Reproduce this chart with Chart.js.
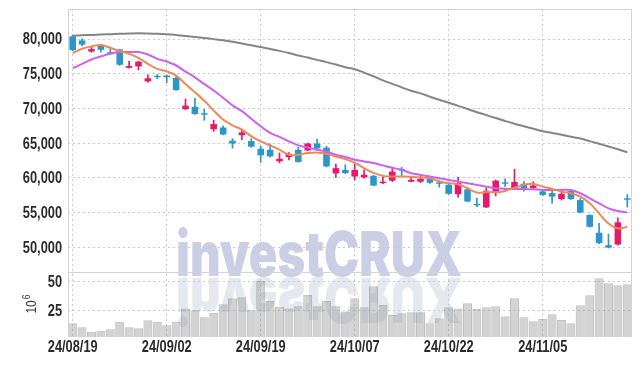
<!DOCTYPE html>
<html>
<head>
<meta charset="utf-8">
<script src="https://cdn.jsdelivr.net/npm/chart.js@4.4.1/dist/chart.umd.min.js"></script>
<style>
    html, body { margin: 0; padding: 0; background: #fff; }
    #wrap { width: 642px; height: 366px; }
</style>
</head>
<body>
<div id="wrap"><canvas id="chart"></canvas></div>
<script>
// --- Dane (dni sesyjne 2024) ---
const dates = [
    '24/08/19', '24/08/20', '24/08/21', '24/08/22', '24/08/23', '24/08/26', '24/08/27', '24/08/28', '24/08/29', '24/08/30',
    '24/09/02', '24/09/03', '24/09/04', '24/09/05', '24/09/06', '24/09/09', '24/09/10', '24/09/11', '24/09/12', '24/09/13',
    '24/09/19', '24/09/20', '24/09/23', '24/09/24', '24/09/25', '24/09/26', '24/09/27', '24/09/30', '24/10/02', '24/10/04',
    '24/10/07', '24/10/08', '24/10/10', '24/10/11', '24/10/14', '24/10/15', '24/10/16', '24/10/17', '24/10/18', '24/10/21',
    '24/10/22', '24/10/23', '24/10/24', '24/10/25', '24/10/28', '24/10/29', '24/10/30', '24/10/31', '24/11/01', '24/11/04',
    '24/11/05', '24/11/06', '24/11/07', '24/11/08', '24/11/11', '24/11/12', '24/11/13', '24/11/14', '24/11/15', '24/11/18'
];
const opens = [
    80400, 79800, 78200, 79000, 78100, 78500, 75850, 76050, 73900, 74700,
    74750, 74400, 69900, 70250, 69300, 67000, 67250, 65350, 66150, 65300,
    64200, 64050, 62400, 63000, 64050, 63950, 64950, 64350, 60650, 61150,
    60200, 60050, 60300, 59250, 59600, 61250, 59450, 59450, 60050, 59350,
    59000, 57650, 58350, 56250, 55750, 58000, 59350, 58500, 59150, 58550,
    58050, 57800, 56950, 58100, 56800, 54650, 52100, 50300, 50400, 57050
];
const highs = [
    80500, 80050, 78900, 79100, 78550, 78550, 76800, 76800, 74850, 74900,
    74800, 74600, 71350, 71450, 69900, 68300, 67500, 65650, 66950, 65650,
    64550, 64900, 63600, 63650, 64400, 65000, 65600, 64550, 62000, 61900,
    62000, 61150, 60350, 60200, 61300, 61500, 60200, 60300, 60200, 59600,
    59300, 60100, 58650, 57100, 58600, 59700, 59850, 61250, 59450, 59450,
    58150, 58150, 58150, 58300, 57000, 54700, 53450, 51900, 54250, 57600
];
const lows = [
    78300, 79000, 78100, 78100, 77850, 76200, 75800, 75550, 73800, 74300,
    73700, 72600, 69850, 69150, 68300, 66700, 66200, 64300, 65500, 64400,
    62250, 63000, 62150, 62600, 62250, 63900, 64200, 61600, 60050, 60600,
    59700, 59950, 58850, 59150, 59450, 60300, 59400, 59300, 59200, 58650,
    57650, 57200, 56550, 55850, 55700, 57400, 58750, 58400, 58100, 58400,
    57450, 56350, 56800, 56900, 54950, 52900, 50500, 49900, 50300, 55800
];
const closes = [
    78400, 79200, 78550, 78450, 77900, 76300, 76100, 76750, 74350, 74500,
    74500, 72650, 70400, 69200, 69100, 67750, 66250, 64950, 66550, 64500,
    63250, 63100, 62750, 63450, 62300, 64950, 64250, 61650, 61400, 60700,
    61150, 60450, 58900, 59450, 60900, 61050, 59700, 59850, 59300, 59150,
    57700, 59250, 56600, 56050, 58150, 59600, 59150, 59400, 58250, 58900,
    57550, 57300, 57700, 56950, 55000, 52950, 50600, 49950, 53600, 56850
];
const ma5 = [
    77970, 78600, 78940, 79130, 78740, 78260, 77870, 77290, 76420, 75700,
    75320, 74740, 73520, 72320, 71120, 69690, 68410, 67580, 66960, 65990,
    65260, 64680, 64060, 63330, 63330, 63580, 63670, 63480, 63090, 62710,
    62200, 61400, 60720, 60290, 60190, 60190, 60150, 60040, 59950, 59470,
    59230, 59080, 58500, 57900, 57950, 57920, 58120, 58600, 58990, 59130,
    58740, 58410, 58020, 57780, 57290, 56330, 54880, 53430, 52710, 52940
];
const ma20 = [
    75800, 76420, 77060, 77490, 77870, 78120, 78120, 78120, 77780, 77150,
    76770, 76190, 75320, 74490, 73500, 72580, 71550, 70430, 69610, 68510,
    67440, 66480, 65900, 65260, 64680, 64390, 64060, 63810, 63330, 63000,
    62610, 62370, 62130, 61800, 61450, 61160, 60680, 60430, 60190, 59950,
    59710, 59470, 59230, 58990, 58740, 58500, 58410, 58400, 58380, 58360,
    58260, 58260, 58260, 58250, 57780, 57060, 56330, 55610, 55220, 55030
];
const ma60 = [
    80480, 80550, 80600, 80650, 80700, 80750, 80800, 80830, 80800, 80750,
    80680, 80580, 80450, 80300, 80150, 79990, 79820, 79610, 79360, 79100,
    78840, 78580, 78300, 77990, 77640, 77330, 77000, 76680, 76330, 75950,
    75650, 75170, 74630, 74050, 73550, 73030, 72560, 72170, 71700, 71250,
    70830, 70380, 69920, 69460, 69040, 68620, 68200, 67800, 67440, 67070,
    66720, 66470, 66210, 65930, 65660, 65300, 64910, 64520, 64120, 63700
];
// wolumen w milionach
const volumes = [
    13.5, 10.1, 6.3, 7.2, 8.4, 14.9, 10.1, 9.2, 16.1, 14.9,
    11.8, 14.9, 26.4, 24.7, 18.7, 22.7, 29.9, 35.1, 35.9, 24.7,
    50.0, 32.8, 27.9, 26.4, 28.2, 37.9, 28.2, 32.8, 28.2, 23.8,
    35.1, 27.3, 45.4, 29.3, 20.7, 22.1, 23.0, 23.0, 13.5, 17.8,
    27.3, 26.4, 30.8, 25.9, 27.3, 28.2, 19.6, 35.1, 18.7, 15.3,
    17.2, 21.3, 16.4, 13.5, 29.1, 37.7, 52.3, 48.0, 46.3, 47.2
];
const priceTicks = [50000, 55000, 60000, 65000, 70000, 75000, 80000];
const volumeTicks = [25, 50];

// --- Kolory ---
const UP = '#e5186c';
const DOWN = '#2b96c8';
const GRID = '#c6c9da';
const FRAME = '#d2d2d8';
const LABEL_FONT = "bold 16px 'Liberation Sans', Arial, sans-serif";

const candleColors = opens.map((o, i) => closes[i] >= o ? UP : DOWN);

// Tekst zwężony w poziomie (czcionka typu condensed)
function drawNarrow(ctx, text, x, y, align, sx) {
    ctx.save();
    ctx.translate(x, y);
    ctx.scale(sx, 1);
    ctx.textAlign = align;
    ctx.fillText(text, 0, 0);
    ctx.restore();
}

// Znak wodny investCRUX + odbicie
const watermark = {
    id: 'watermark',
    beforeDraw(chart) {
        const ctx = chart.ctx;
        ctx.save();
        ctx.font = "900 62px Inter, 'DejaVu Sans', sans-serif";
        ctx.textBaseline = 'alphabetic';
        const w = ctx.measureText('investCRUX').width;
        ctx.translate(176, 276);
        ctx.scale(286 / w, 1);
        ctx.fillStyle = '#cbcfe5';
        ctx.fillText('investCRUX', 0, 0);
        ctx.scale(1, -1);
        ctx.fillStyle = '#e6e8f0';
        ctx.fillText('investCRUX', 0, -2);
        ctx.restore();
    }
};

// Ramka, separator paneli, etykiety osi i 10^6
const frame = {
    id: 'frame',
    afterDraw(chart) {
        const ctx = chart.ctx;
        const a = chart.chartArea;
        const { x, y, yv } = chart.scales;
        const sep = Math.round(y.bottom) + 0.5;
        ctx.save();
        ctx.strokeStyle = FRAME;
        ctx.lineWidth = 1;
        ctx.beginPath();
        ctx.moveTo(a.left + 0.5, a.bottom);
        ctx.lineTo(a.left + 0.5, a.top + 0.5);
        ctx.lineTo(a.right - 0.5, a.top + 0.5);
        ctx.lineTo(a.right - 0.5, a.bottom);
        ctx.moveTo(a.left, sep);
        ctx.lineTo(a.right, sep);
        ctx.stroke();

        ctx.fillStyle = '#2a2a2a';
        ctx.font = LABEL_FONT;
        ctx.textBaseline = 'middle';
        priceTicks.forEach(v => drawNarrow(ctx, v.toLocaleString('en-US'), 62, y.getPixelForValue(v) + 1, 'right', 0.8));
        volumeTicks.forEach(v => drawNarrow(ctx, String(v), 62, yv.getPixelForValue(v) + 2, 'right', 0.8));
        dates.forEach((d, i) => {
            if (i % 10 === 0) drawNarrow(ctx, d, x.getPixelForValue(i), 348, 'center', 0.8);
        });

        ctx.translate(32, 307);
        ctx.rotate(-Math.PI / 2);
        ctx.fillStyle = '#333';
        ctx.textAlign = 'center';
        ctx.font = "14px 'Liberation Sans', Arial, sans-serif";
        drawNarrow(ctx, '10', 0, 0, 'center', 0.85);
        ctx.font = "10px 'Liberation Sans', Arial, sans-serif";
        drawNarrow(ctx, '6', 10, -5, 'center', 0.85);
        ctx.restore();
    }
};

const ctx = document.getElementById('chart').getContext('2d');
new Chart(ctx, {
    type: 'bar',
    data: {
        labels: dates,
        datasets: [
            {
                type: 'line', label: 'MA5', data: ma5, yAxisID: 'y',
                borderColor: '#ee8a55', borderWidth: 2, pointRadius: 0, tension: 0.4, order: 0
            },
            {
                type: 'line', label: 'MA20', data: ma20, yAxisID: 'y',
                borderColor: '#cf5ff0', borderWidth: 2, pointRadius: 0, tension: 0.4, order: 0
            },
            {
                type: 'line', label: 'MA60', data: ma60, yAxisID: 'y',
                borderColor: '#858585', borderWidth: 2, pointRadius: 0, tension: 0.4, order: 0
            },
            {
                label: 'Korpus', data: opens.map((o, i) => [o, closes[i]]), yAxisID: 'y',
                backgroundColor: candleColors, grouped: false,
                barPercentage: 0.7, categoryPercentage: 1, order: 1
            },
            {
                label: 'Cień', data: lows.map((l, i) => [l, highs[i]]), yAxisID: 'y',
                backgroundColor: candleColors, grouped: false,
                barThickness: 1, order: 2
            },
            {
                label: 'Wolumen', data: volumes, yAxisID: 'yv',
                backgroundColor: 'rgba(150, 150, 150, 0.42)', borderColor: 'rgba(120, 120, 120, 0.45)',
                borderWidth: 1, grouped: false,
                barPercentage: 0.96, categoryPercentage: 1, order: 3
            }
        ]
    },
    options: {
        responsive: true,
        maintainAspectRatio: false,
        animation: false,
        layout: { padding: { top: 9, right: 10, left: 0, bottom: 0 } },
        plugins: { legend: { display: false }, tooltip: { enabled: false } },
        scales: {
            x: {
                offset: true,
                grid: {
                    offset: false,
                    drawTicks: false,
                    color: c => c.index % 10 === 0 ? GRID : 'rgba(0,0,0,0)'
                },
                border: { display: false, dash: [2, 3] },
                ticks: { display: false },
                afterFit: s => { s.height = 29; }
            },
            yv: {
                position: 'left', stack: 'panels', stackWeight: 65,
                min: 1.7, max: 57.8,
                grid: { color: GRID, drawTicks: false },
                border: { display: false, dash: [2, 3] },
                ticks: { display: false },
                afterBuildTicks: s => { s.ticks = volumeTicks.map(v => ({ value: v })); },
                afterFit: s => { s.width = 68; }
            },
            y: {
                position: 'left', stack: 'panels', stackWeight: 263,
                min: 46440, max: 84330,
                grid: { color: GRID, drawTicks: false },
                border: { display: false, dash: [2, 3] },
                ticks: { display: false },
                afterBuildTicks: s => { s.ticks = priceTicks.map(v => ({ value: v })); },
                afterFit: s => { s.width = 68; }
            }
        }
    },
    plugins: [watermark, frame]
});
</script>
</body>
</html>
